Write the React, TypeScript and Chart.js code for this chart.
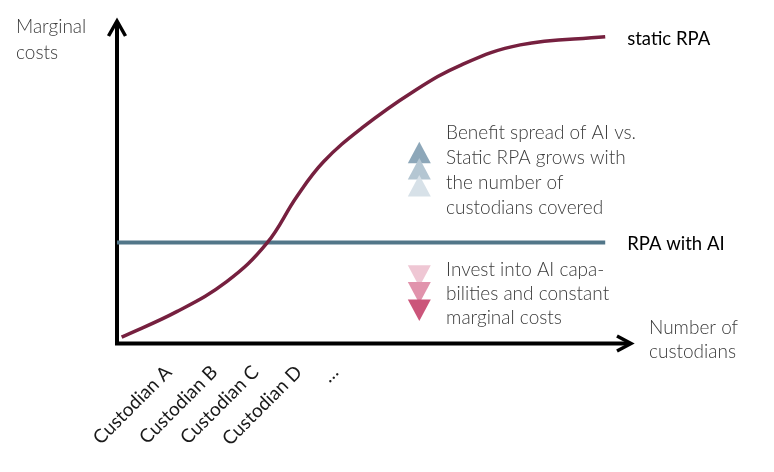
import React, { useEffect, useRef } from "react";
import { Chart, registerables } from "chart.js";

Chart.register(...registerables);

// ---- data ----
const staticRpaX = [0.9, 11.6, 21.3, 29.1, 34.9, 40.1, 47.5, 57.5, 67.0, 78.3, 94.8];
const staticRpaY = [1.8, 9.7, 19.0, 30.9, 45.3, 56.1, 66.5, 77.8, 86.2, 92.3, 94.8];
const rpaWithAiX = [0, 94.8];
const rpaWithAiY = [31.1, 31.1];
const seriesNames = ["static RPA", "RPA with AI"];
const custodianTicks = [10, 18.9, 26.9, 35.3, 42.4];
const custodianLabels = ["Custodian A", "Custodian B", "Custodian C", "Custodian D", "…"];
const yTitle = ["Marginal", "costs"];
const xTitle = ["Number of", "custodians"];
const upNote = ["Benefit spread of AI vs.", "Static RPA grows with", "the number of", "custodians covered"];
const downNote = ["Invest into AI capa-", "bilities and constant", "marginal costs"];
// annotation anchors in data units
const upNoteAnchor = { x: 63.9, y: 65.0 };
const downNoteAnchor = { x: 63.9, y: 22.6 };
const upTriApexY = [62.3, 57.3, 52.0];
const downTriBaseY = [24.1, 18.9, 13.5];
const triCenterX = 58.7;

// ---- styles ----
const FONT = "Lato";
const CURVE_COLOR = "#76203F";
const FLAT_COLOR = "#527689";
const NOTE_COLOR = "#3a3a3a";
const UP_COLORS = ["#8DA7B9", "#B4C6D2", "#D7E1E8"];
const DOWN_COLORS = ["#EFC7D4", "#E193AC", "#CB557A"];

const overlay = {
  id: "overlay",
  beforeDatasetsDraw(chart: any) {
    const { ctx, chartArea } = chart;
    const { left, right, top, bottom } = chartArea;
    ctx.save();
    ctx.strokeStyle = "#000";
    ctx.lineWidth = 4;
    ctx.lineCap = "butt";
    // y axis
    ctx.beginPath();
    ctx.moveTo(left, bottom + 2);
    ctx.lineTo(left, top + 2);
    ctx.stroke();
    ctx.lineWidth = 3.5;
    ctx.lineJoin = "miter";
    ctx.beginPath();
    ctx.moveTo(left - 8.5, top + 16);
    ctx.lineTo(left, top + 1);
    ctx.lineTo(left + 8.5, top + 16);
    ctx.stroke();
    // x axis
    ctx.lineWidth = 4;
    ctx.beginPath();
    ctx.moveTo(left - 2, bottom + 0.5);
    ctx.lineTo(right - 2, bottom + 0.5);
    ctx.stroke();
    ctx.lineWidth = 3.5;
    ctx.beginPath();
    ctx.moveTo(right - 15, bottom - 7);
    ctx.lineTo(right - 1, bottom + 0.5);
    ctx.lineTo(right - 15, bottom + 8);
    ctx.stroke();
    ctx.restore();
  },
  afterDraw(chart: any) {
    const { ctx, chartArea, scales } = chart;
    const xs = scales.x;
    const ys = scales.y;
    ctx.save();
    // triangles
    const cx = xs.getPixelForValue(triCenterX);
    const hw = 11.5;
    const th = 21.5;
    upTriApexY.forEach((v, i) => {
      const ay = ys.getPixelForValue(v);
      ctx.fillStyle = UP_COLORS[i];
      ctx.beginPath();
      ctx.moveTo(cx, ay);
      ctx.lineTo(cx + hw, ay + th);
      ctx.lineTo(cx - hw, ay + th);
      ctx.closePath();
      ctx.fill();
    });
    downTriBaseY.forEach((v, i) => {
      const by = ys.getPixelForValue(v);
      ctx.fillStyle = DOWN_COLORS[i];
      ctx.beginPath();
      ctx.moveTo(cx - hw, by);
      ctx.lineTo(cx + hw, by);
      ctx.lineTo(cx, by + th);
      ctx.closePath();
      ctx.fill();
    });
    // notes
    ctx.textAlign = "left";
    ctx.textBaseline = "middle";
    ctx.fillStyle = NOTE_COLOR;
    ctx.font = `300 19px ${FONT}`;
    const ux = xs.getPixelForValue(upNoteAnchor.x);
    const uy = ys.getPixelForValue(upNoteAnchor.y);
    upNote.forEach((t, i) => ctx.fillText(t, ux, uy + i * 25));
    const dx = xs.getPixelForValue(downNoteAnchor.x);
    const dy = ys.getPixelForValue(downNoteAnchor.y);
    downNote.forEach((t, i) => ctx.fillText(t, dx, dy + i * 24));
    // axis titles
    yTitle.forEach((t, i) => ctx.fillText(t, 16, 27 + i * 25.5));
    xTitle.forEach((t, i) => ctx.fillText(t, chartArea.right + 17, chartArea.bottom - 15 + i * 24));
    // series labels
    ctx.fillStyle = "#000";
    ctx.font = `400 18.5px ${FONT}`;
    const lastS = staticRpaX.length - 1;
    ctx.fillText(seriesNames[0], xs.getPixelForValue(staticRpaX[lastS]) + 22, ys.getPixelForValue(staticRpaY[lastS]) + 2);
    const lastA = rpaWithAiX.length - 1;
    ctx.fillText(seriesNames[1], xs.getPixelForValue(rpaWithAiX[lastA]) + 22, ys.getPixelForValue(rpaWithAiY[lastA]) + 1);
    ctx.restore();
  },
};

export default function App() {
  const ref = useRef<HTMLCanvasElement>(null);
  useEffect(() => {
    document.body.style.margin = "0";
    const chart = new Chart(ref.current as HTMLCanvasElement, {
      type: "line",
      data: {
        datasets: [
          {
            label: seriesNames[0],
            data: staticRpaX.map((x, i) => ({ x, y: staticRpaY[i] })),
            borderColor: CURVE_COLOR,
            borderWidth: 3.5,
            pointRadius: 0,
            tension: 0.4,
            fill: false,
          },
          {
            label: seriesNames[1],
            data: rpaWithAiX.map((x, i) => ({ x, y: rpaWithAiY[i] })),
            borderColor: FLAT_COLOR,
            borderWidth: 4,
            pointRadius: 0,
            fill: false,
          },
        ],
      },
      options: {
        animation: false,
        responsive: false,
        devicePixelRatio: 1,
        layout: { padding: { left: 117, right: 142, top: 20, bottom: 0 } },
        plugins: { legend: { display: false }, tooltip: { enabled: false } },
        scales: {
          x: {
            type: "linear",
            min: 0,
            max: 100,
            grid: { display: false, drawTicks: false },
            border: { display: false },
            afterBuildTicks: (scale: any) => {
              scale.ticks = custodianTicks.map((value) => ({ value }));
            },
            afterFit: (scale: any) => {
              scale.height = 129;
            },
            ticks: {
              autoSkip: false,
              minRotation: 45,
              maxRotation: 45,
              padding: 18,
              color: "#1a1a1a",
              font: { family: FONT, size: 19, weight: "400" },
              callback: (value: any) => {
                const i = custodianTicks.indexOf(value);
                return i >= 0 ? custodianLabels[i] : "";
              },
            },
          },
          y: {
            type: "linear",
            min: 0,
            max: 100,
            display: false,
          },
        },
      },
      plugins: [overlay],
    });
    return () => chart.destroy();
  }, []);
  return (
    <div style={{ width: 774, height: 472, background: "#fff" }}>
      <canvas ref={ref} width={774} height={472} style={{ display: "block" }} />
    </div>
  );
}
